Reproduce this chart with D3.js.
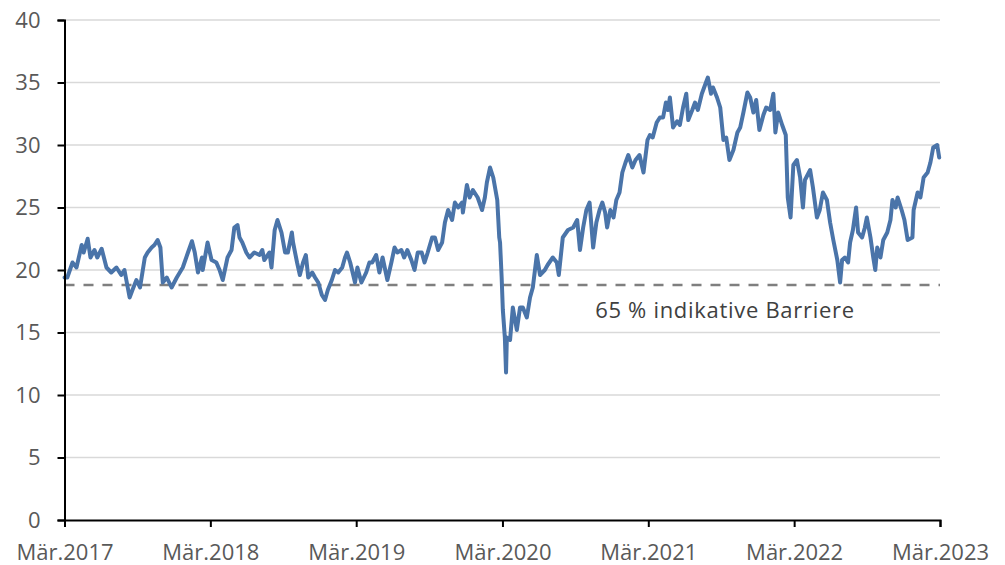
<!DOCTYPE html>
<html>
<head>
<meta charset="utf-8">
<script src="https://cdn.jsdelivr.net/npm/d3@7"></script>
<style>
  html, body { margin: 0; padding: 0; background: #ffffff; }
  svg { display: block; }
  svg text { font-family: "Open Sans", "Noto Sans", sans-serif; }
</style>
</head>
<body>
<svg id="chart" width="1005" height="565"></svg>
<script>
// ---------- data ----------
const yTicks = [0, 5, 10, 15, 20, 25, 30, 35, 40];
const xTickDates = ["2017-03-01", "2018-03-01", "2019-03-01", "2020-03-01", "2021-03-01", "2022-03-01", "2023-03-01"];
const xTickLabels = ["Mär.2017", "Mär.2018", "Mär.2019", "Mär.2020", "Mär.2021", "Mär.2022", "Mär.2023"];
const barrierValue = 18.8;
const barrierLabel = "65 % indikative Barriere";

const dates2017 = ["2017-03-01","2017-03-08","2017-03-21","2017-03-31","2017-04-13","2017-04-18","2017-04-28","2017-05-05","2017-05-15","2017-05-22","2017-06-02","2017-06-14","2017-06-26","2017-07-09","2017-07-21","2017-07-29","2017-08-11","2017-08-18","2017-08-28","2017-09-06","2017-09-18","2017-09-25","2017-10-05","2017-10-12","2017-10-20","2017-10-27","2017-11-02","2017-11-12","2017-11-24","2017-12-07","2017-12-22","2018-01-04","2018-01-14","2018-01-21","2018-01-29","2018-02-08","2018-02-10","2018-02-22"];
const values2017 = [19.4,19.4,20.6,20.2,22.0,21.4,22.5,21.0,21.6,21.0,21.7,20.2,19.8,20.2,19.6,20.0,17.8,18.4,19.2,18.6,21.0,21.4,21.8,22.0,22.4,21.8,19.0,19.4,18.6,19.4,20.2,21.4,22.3,21.4,19.8,21.0,20.0,22.2];

const dates2018 = ["2018-03-04","2018-03-16","2018-03-24","2018-04-01","2018-04-13","2018-04-23","2018-04-30","2018-05-08","2018-05-13","2018-05-20","2018-05-30","2018-06-07","2018-06-19","2018-07-02","2018-07-09","2018-07-14","2018-07-27","2018-08-01","2018-08-09","2018-08-16","2018-08-26","2018-09-04","2018-09-11","2018-09-21","2018-09-24","2018-10-04","2018-10-11","2018-10-19","2018-10-26","2018-11-01","2018-11-11","2018-11-18","2018-11-26","2018-12-05","2018-12-13","2018-12-20","2018-12-30","2019-01-07","2019-01-15","2019-01-25","2019-02-01","2019-02-06","2019-02-14","2019-02-26"];
const values2018 = [20.8,20.6,20.0,19.2,21.0,21.6,23.4,23.6,22.6,22.2,21.4,21.0,21.4,21.2,21.6,20.8,21.4,20.2,23.2,24.0,23.0,21.4,21.4,23.0,22.2,20.6,19.6,20.6,21.2,19.4,19.8,19.4,19.0,18.0,17.6,18.4,19.2,20.0,19.8,20.2,21.0,21.4,20.6,19.0];

const dates2019 = ["2019-03-04","2019-03-14","2019-03-26","2019-04-03","2019-04-10","2019-04-20","2019-04-28","2019-05-06","2019-05-18","2019-05-28","2019-06-05","2019-06-12","2019-06-22","2019-06-29","2019-07-07","2019-07-17","2019-07-25","2019-08-02","2019-08-12","2019-08-19","2019-08-27","2019-09-07","2019-09-14","2019-09-22","2019-10-02","2019-10-09","2019-10-17","2019-10-27","2019-11-03","2019-11-11","2019-11-21","2019-11-23","2019-12-03","2019-12-10","2019-12-18","2019-12-30","2020-01-10","2020-01-17","2020-01-22","2020-01-30","2020-02-07","2020-02-17","2020-02-22","2020-02-24"];
const values2019 = [20.2,19.0,19.8,20.6,20.6,21.2,19.8,21.0,19.2,20.6,21.8,21.4,21.6,21.0,21.6,20.8,20.0,21.4,21.4,20.6,21.4,22.6,22.6,21.6,22.2,23.8,24.8,24.0,25.4,25.0,25.4,24.6,26.8,25.8,26.4,25.8,24.8,25.8,27.0,28.2,27.4,25.6,22.6,22.2];

const dates2020 = ["2020-02-28","2020-03-02","2020-03-07","2020-03-10","2020-03-12","2020-03-20","2020-03-27","2020-04-06","2020-04-14","2020-04-21","2020-05-01","2020-05-09","2020-05-16","2020-05-26","2020-06-03","2020-06-15","2020-06-22","2020-07-05","2020-07-15","2020-07-20","2020-07-30","2020-08-12","2020-08-25","2020-09-04","2020-09-11","2020-09-19","2020-09-27","2020-10-05","2020-10-14","2020-10-22","2020-10-30","2020-11-06","2020-11-13","2020-11-18","2020-11-26","2020-12-04","2020-12-11","2020-12-19","2020-12-26","2021-01-03","2021-01-10","2021-01-20","2021-01-28","2021-02-07","2021-02-17","2021-02-27"];
const values2020 = [19.4,16.8,14.6,11.8,14.6,14.4,17.0,15.2,17.0,17.0,16.2,17.8,18.6,21.2,19.6,20.0,20.4,21.0,20.6,19.6,22.6,23.2,23.4,24.0,21.6,23.4,24.8,25.4,21.8,23.8,24.8,25.4,24.6,23.4,24.8,24.2,25.6,26.2,27.8,28.6,29.2,28.2,28.8,29.2,27.8,30.4];

const dates2021 = ["2021-03-05","2021-03-12","2021-03-22","2021-03-30","2021-04-07","2021-04-14","2021-04-19","2021-04-24","2021-05-02","2021-05-12","2021-05-19","2021-05-27","2021-06-04","2021-06-09","2021-06-19","2021-06-26","2021-07-03","2021-07-13","2021-07-21","2021-07-28","2021-08-05","2021-08-10","2021-08-20","2021-08-28","2021-09-05","2021-09-12","2021-09-20","2021-09-30","2021-10-10","2021-10-17","2021-10-25","2021-11-04","2021-11-11","2021-11-19","2021-11-26","2021-12-04","2021-12-14","2021-12-21","2021-12-31","2022-01-08","2022-01-13","2022-01-20","2022-01-30","2022-02-08","2022-02-13","2022-02-20","2022-02-27"];
const values2021 = [30.8,30.6,31.8,32.2,32.2,33.4,32.8,33.8,31.4,31.9,31.6,33.0,34.1,32.0,32.8,33.4,32.8,34.1,34.8,35.4,34.1,34.6,33.8,33.0,30.4,30.6,28.8,29.6,31.0,31.4,32.6,34.2,33.8,32.6,33.6,31.2,32.4,33.0,32.8,34.1,31.0,32.6,31.6,30.8,25.8,24.2,28.4];

const dates2022 = ["2022-03-08","2022-03-16","2022-03-23","2022-03-28","2022-04-10","2022-04-17","2022-04-27","2022-05-04","2022-05-12","2022-05-22","2022-05-30","2022-06-07","2022-06-17","2022-06-24","2022-06-29","2022-07-06","2022-07-14","2022-07-19","2022-07-26","2022-08-03","2022-08-08","2022-08-18","2022-08-25","2022-08-30","2022-09-08","2022-09-15","2022-09-20","2022-09-25","2022-10-03","2022-10-10","2022-10-20","2022-10-28","2022-11-02","2022-11-10","2022-11-15","2022-11-25","2022-12-02","2022-12-10","2022-12-22","2022-12-25","2023-01-04","2023-01-11","2023-01-19","2023-01-29","2023-02-05","2023-02-12","2023-02-22","2023-02-27"];
const values2022 = [28.8,27.4,25.0,27.2,28.0,26.6,24.2,24.8,26.2,25.6,23.8,22.4,20.8,19.0,20.8,21.0,20.6,22.2,23.2,25.0,23.0,22.6,23.4,24.2,22.6,21.0,20.0,21.8,21.0,22.4,23.0,24.0,25.6,25.0,25.8,24.8,24.0,22.4,22.6,24.8,26.2,25.8,27.4,27.8,28.6,29.8,30.0,29.0];

// ---------- build ----------
const parse = d3.timeParse("%Y-%m-%d");
const allDates = [].concat(dates2017, dates2018, dates2019, dates2020, dates2021, dates2022);
const allValues = [].concat(values2017, values2018, values2019, values2020, values2021, values2022);
const series = allDates.map((d, i) => ({ date: parse(d), value: allValues[i] }));

const margin = { left: 64.5, right: 65, top: 20, bottom: 45 };
const W = 1005, H = 565;
const FONT = '"Open Sans", "Noto Sans", sans-serif';
const svg = d3.select("#chart");

const x = d3.scaleTime()
  .domain([parse(xTickDates[0]), parse(xTickDates[xTickDates.length - 1])])
  .range([margin.left, W - margin.right]);
const y = d3.scaleLinear().domain([0, 40]).range([H - margin.bottom, margin.top]);

// gridlines
svg.append("g").selectAll("line")
  .data(yTicks.filter(t => t > 0))
  .join("line")
  .attr("x1", margin.left).attr("x2", W - margin.right)
  .attr("y1", d => y(d)).attr("y2", d => y(d))
  .attr("stroke", "#d9d9d9").attr("stroke-width", 1.5);

// barrier dashed line
svg.append("line")
  .attr("x1", margin.left).attr("x2", W - margin.right)
  .attr("y1", y(barrierValue)).attr("y2", y(barrierValue))
  .attr("stroke", "#7f7f7f").attr("stroke-width", 2.5)
  .attr("stroke-dasharray", "10,9");

// series line
const line = d3.line().x(d => x(d.date)).y(d => y(d.value)).curve(d3.curveLinear);
svg.append("path")
  .datum(series)
  .attr("d", line)
  .attr("fill", "none")
  .attr("stroke", "#4a74a9")
  .attr("stroke-width", 4)
  .attr("stroke-linejoin", "round")
  .attr("stroke-linecap", "round");

// y axis
const yAxis = d3.axisLeft(y).tickValues(yTicks).tickSize(7).tickPadding(17).tickFormat(d3.format("d"));
const gy = svg.append("g").attr("transform", `translate(${margin.left},0)`).call(yAxis)
  .attr("font-family", FONT).attr("font-size", 22);
gy.select(".domain").attr("stroke", "#000").attr("stroke-width", 2);
gy.selectAll(".tick line").attr("stroke", "#000").attr("stroke-width", 2);
gy.selectAll(".tick text").attr("fill", "#595959");

// x axis
const xAxis = d3.axisBottom(x)
  .tickValues(xTickDates.map(parse))
  .tickSize(7).tickPadding(17)
  .tickFormat((d, i) => xTickLabels[i]);
const gx = svg.append("g").attr("transform", `translate(0,${H - margin.bottom})`).call(xAxis)
  .attr("font-family", FONT).attr("font-size", 22);
gx.select(".domain").attr("stroke", "#000").attr("stroke-width", 2);
gx.selectAll(".tick line").attr("stroke", "#000").attr("stroke-width", 2);
gx.selectAll(".tick text").attr("fill", "#595959");

// barrier label
svg.append("text")
  .attr("x", x(parse("2020-10-19")))
  .attr("y", y(barrierValue) + 33)
  .attr("fill", "#404040")
  .attr("font-family", FONT)
  .attr("font-size", 22)
  .attr("letter-spacing", 0.7)
  .text(barrierLabel);
</script>
</body>
</html>
